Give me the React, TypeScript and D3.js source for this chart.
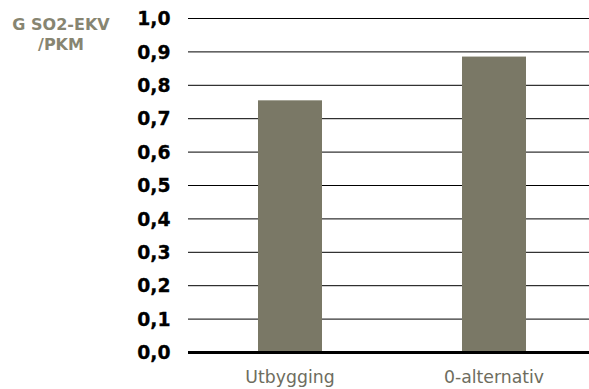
import React from "react";
import * as d3 from "d3";

const categories = ["Utbygging", "0-alternativ"];
const values = [0.755, 0.886];
const ticks = [0, 0.1, 0.2, 0.3, 0.4, 0.5, 0.6, 0.7, 0.8, 0.9, 1.0];
const titleLines = ["G SO2-EKV", "/PKM"];

export default function App() {
  const W = 589, H = 389;
  const x0 = 188, x1 = 589;
  const y = d3.scaleLinear().domain([0, 1]).range([352.5, 18.5]);
  const x = d3.scaleBand<string>().domain(categories).range([188, 596]).padding(0);
  const bw = 64;
  const font = "DejaVu Sans, Verdana, sans-serif";
  return (
    <svg width={W} height={H} style={{ position: "absolute", left: 0, top: 0 }} fontFamily={font}>
      {ticks.map((t) => (
        <g key={t}>
          {t > 0 && (
            <line x1={x0} x2={x1} y1={y(t)} y2={y(t)} stroke="#000" strokeWidth={1} />
          )}
          <text x={170.5} y={y(t)} dy="0.36em" textAnchor="end" fontWeight="bold" fontSize={18.8} fill="#000" stroke="#000" strokeWidth={0.3}>
            {d3.format(".1f")(t).replace(".", ",")}
          </text>
        </g>
      ))}
      {categories.map((c, i) => (
        <g key={c}>
          <rect
            x={x(c)! + x.bandwidth() / 2 - bw / 2}
            y={y(values[i])}
            width={bw}
            height={y(0) - y(values[i])}
            fill="#7a7866"
          />
          <text x={x(c)! + x.bandwidth() / 2} y={383} textAnchor="middle" fontSize={17.3} fill="#6e6d5e">
            {c}
          </text>
        </g>
      ))}
      <line x1={x0} x2={x1} y1={y(0)} y2={y(0)} stroke="#000" strokeWidth={3} />
      {titleLines.map((l, i) => (
        <text key={l} x={61} y={30 + i * 20} textAnchor="middle" fontWeight="bold" fontSize={16} fill="#878571">
          {l}
        </text>
      ))}
    </svg>
  );
}
